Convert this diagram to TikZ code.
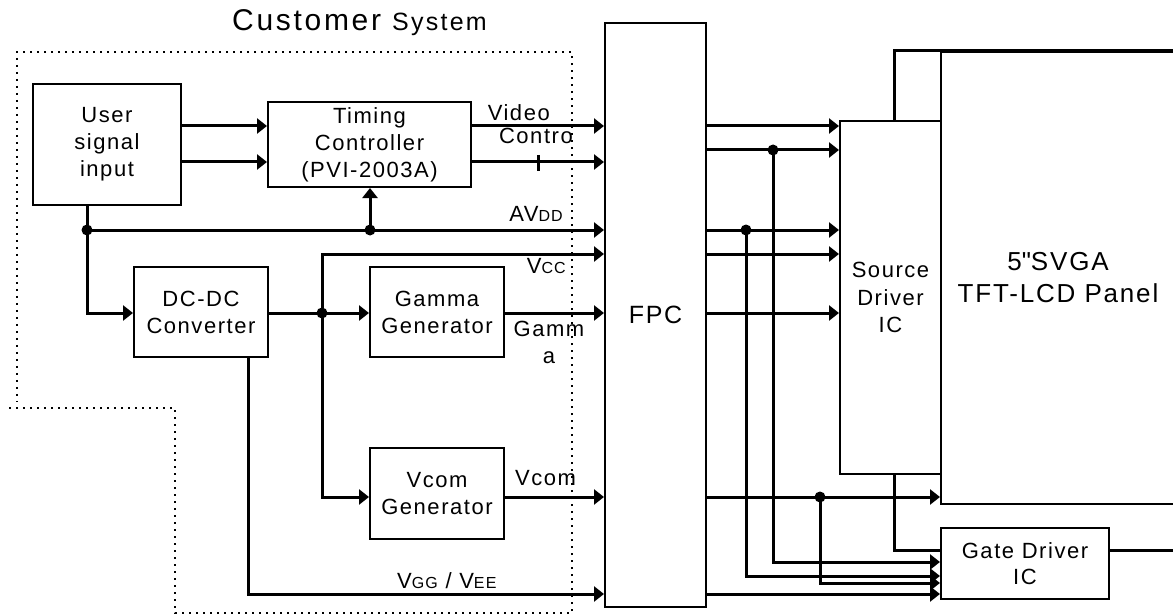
\documentclass[tikz,border=0pt]{standalone}
\usepackage{fontspec}
\setmainfont[LetterSpace=7]{Liberation Sans}
\newfontfamily\titlefont[LetterSpace=9]{Liberation Sans}
\usetikzlibrary{arrows.meta}
\newcommand{\lowcap}[1]{{\fontsize{16}{18}\selectfont #1}}

\begin{document}
\begin{tikzpicture}[x=1pt,y=-1pt,font=\fontsize{22}{27}\selectfont,
  box/.style={draw,line width=2pt,inner sep=0pt,align=center,fill=white},
  lab/.style={inner sep=0pt},
  sig/.style={line width=3pt},
  arr/.style={sig,-{Triangle[length=10pt,width=15pt]}}]
  \useasboundingbox (0,0) rectangle (1173,615);
  \clip (0,0) rectangle (1173,615);

  % signal rows
  \foreach \n/\y in {video/126,ctrl/162,sctl/150,avdd/230,vcc/254,gam/313,vcm/497,vgg/594,
                     gd/550,g1/562,g2/576,g3/583}
    \coordinate (\n) at (0,\y);
  \foreach \n/\x/\y in {ja/87/230,jb/370/230,jc/322/313,jd/773/150,je/746/230,jf/820/497,
                        vggx/248/0,sx/894/0}
    \coordinate (\n) at (\x,\y);

  % customer side
  \draw[line width=2pt,dash pattern=on 2pt off 5pt]
    (9,408) -- (175,408) -- (175,613) -- (572,613) -- (572,52) -- (17,52) -- (17,402);
  \node[anchor=base west,lab,font=\titlefont\fontsize{30}{36}\selectfont] (title) at (232,31)
    {Customer {\fontsize{25}{30}\selectfont System}};

  \node[box,minimum width=148pt,minimum height=121pt] (user) at (107,144.5) {User\\signal\\input};
  \node[box,minimum width=203pt,minimum height=85pt] (tcon) at (369.5,144.5) {Timing\\Controller\\(PVI-2003A)};
  \node[box,minimum width=134pt,minimum height=90pt] (dcdc) at (201,312) {DC-DC\\Converter};
  \node[box,minimum width=134pt,minimum height=90pt] (gamma) at (437,312) {Gamma\\Generator};
  \node[box,minimum width=134pt,minimum height=91pt] (vcom) at (437,493.5) {Vcom\\Generator};
  \node[box,minimum width=101pt,minimum height=584pt,font=\fontsize{25}{30}\selectfont] (fpc) at (655.5,315) {FPC};
  \node[box,minimum width=234pt,minimum height=452pt,font=\fontsize{26}{32}\selectfont] (panel) at (1058,278) {5\textquotedbl SVGA\\TFT-LCD Panel};
  \node[box,minimum width=101pt,minimum height=353pt,font=\fontsize{22}{27.5}\selectfont] (src) at (890.5,297.5) {Source\\Driver\\IC};
  \node[box,minimum width=168pt,minimum height=71pt,font=\fontsize{22}{26}\selectfont] (gate) at (1025,563.5) {Gate Driver\\IC};

  \foreach \r in {video,ctrl}
    {
      \draw[arr] (user.east |- \r) -- (tcon.west |- \r);
      \draw[arr] (tcon.east |- \r) -- (fpc.west |- \r);
    }
  \draw[line width=3pt] (538,155) -- (538,171);
  \draw[arr] (user.south -| ja) |- (dcdc.west |- gam);
  \draw[arr] (ja) -- (fpc.west |- avdd);
  \draw[arr] (jb) -- (jb |- tcon.south);
  \draw[arr] (dcdc.east |- gam) -- (gamma.west |- gam);
  \draw[arr] (jc) |- (fpc.west |- vcc);
  \draw[arr] (jc) |- (vcom.west |- vcm);
  \draw[arr] (gamma.east |- gam) -- (fpc.west |- gam);
  \draw[arr] (vcom.east |- vcm) -- (fpc.west |- vcm);
  \draw[arr] (dcdc.south -| vggx) |- (fpc.west |- vgg);

  % panel side
  \foreach \r in {video,sctl,avdd,vcc,gam}
    \draw[arr] (fpc.east |- \r) -- (src.west |- \r);
  \draw[arr] (fpc.east |- vcm) -- (panel.west |- vcm);
  \draw[arr] (fpc.east |- vgg) -- (gate.west |- vgg);
  \draw[arr] (jd) |- (gate.west |- g1);
  \draw[arr] (je) |- (gate.west |- g2);
  \draw[arr] (jf) |- (gate.west |- g3);
  \draw[sig] (src.south -| sx) |- (gate.west |- gd);
  \draw[sig] (src.north -| sx) |- (panel.north east);
  \draw[sig] (gate.east |- gd) -- (panel.east |- gd);
  \foreach \j in {ja,jb,jc,jd,je,jf}
    \fill (\j) circle (5.5pt);

  \node[lab,anchor=base east] (lvideo) at (550,121) {Video};
  \node[lab,anchor=base east] (lctrl) at (573,144) {Contro};
  \node[lab,anchor=base east] (lavdd) at (563,221) {AV\lowcap{DD}};
  \node[lab,anchor=base east] (lvcc) at (566,273) {V\lowcap{CC}};
  \node[lab,align=center] (lgam) at (549,342) {Gamm\\a};
  \node[lab,anchor=base west] (lvcm) at (515,485) {Vcom};
  \node[lab,anchor=base west] (lvgg) at (397,588) {V\lowcap{GG} / V\lowcap{EE}};
\end{tikzpicture}
\end{document}
